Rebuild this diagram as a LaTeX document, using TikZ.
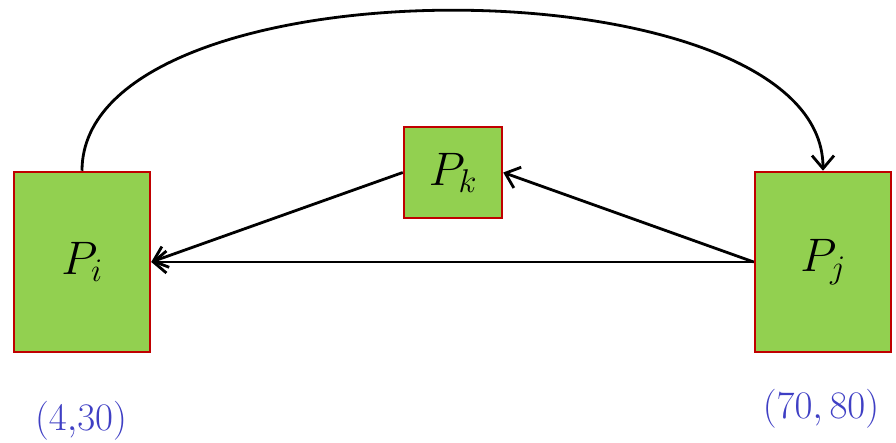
\RequirePackage{fix-cm}
\documentclass[tikz,border=0pt]{standalone}
\usetikzlibrary{arrows.meta}
\definecolor{boxgreen}{HTML}{92D050}
\definecolor{boxred}{HTML}{C00000}
\definecolor{lblblue}{HTML}{3F3FC4}
\begin{document}
\begin{tikzpicture}[x=1pt,y=-1pt,
  pbox/.style={draw=boxred,fill=boxgreen,line width=2.5pt,inner sep=0pt,font=\fontsize{47}{52}\selectfont},
  arr/.style={line width=2.8pt,-{Straight Barb[length=13pt,width=22pt,line width=2.8pt]}},
  lbl/.style={text=lblblue,inner sep=0pt,font=\fontsize{39}{44}\selectfont,anchor=base}]
\useasboundingbox (0,0) rectangle (896,443);
\node[pbox,minimum width=136pt,minimum height=180pt] (pi) at (82,262) {$P_i$};
\node[pbox,minimum width=136pt,minimum height=180pt] (pj) at (823,262) {$P_j$};
\node[pbox,minimum width=98pt,minimum height=91pt] (pk) at (453,172.5) {$P_k$};
\draw[arr] (pk.west) -- (pi.east);
\draw[arr] (pj.west) -- (pk.east);
\draw[arr] (pj.west) -- (pi.east);
\draw[arr] (pi.north) .. controls +(0,-215) and +(0,-212) .. (pj.north);
\node[lbl] (li) at (81,430) {$(4{,}30)$};
\node[lbl] (lj) at (821,418) {$(70,80)$};
\end{tikzpicture}
\end{document}
